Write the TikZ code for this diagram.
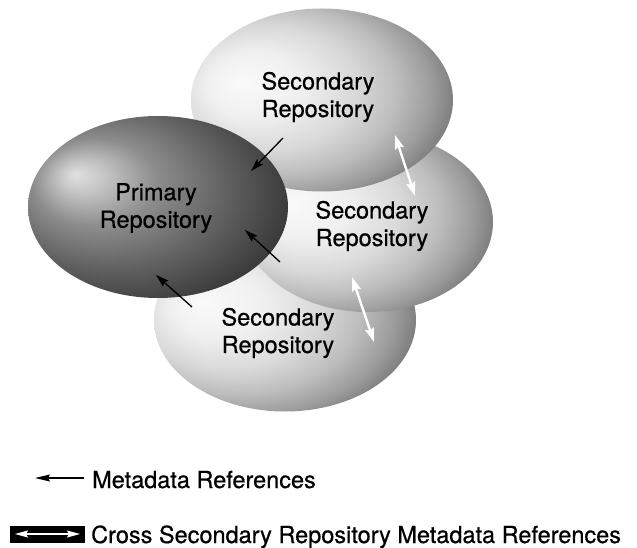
\documentclass[tikz,border=0pt]{standalone}
\usepackage{fontspec}
\setmainfont{TeX Gyre Heros}
\newfontfamily\heavysans[FakeBold=0.6]{TeX Gyre Heros}
\usetikzlibrary{shapes.geometric,arrows.meta}
\pgfdeclareradialshading{secshade}{\pgfpoint{-16bp}{5bp}}{%
  color(0bp)=(white!98!black); color(9bp)=(white!94!black);
  color(17bp)=(white!85!black); color(23bp)=(white!74!black);
  color(28bp)=(white!61!black); color(32bp)=(white!47!black);
  color(36bp)=(white!33!black); color(50bp)=(white!22!black)}
\pgfdeclareradialshading{primshade}{\pgfpoint{-16bp}{9bp}}{%
  color(0bp)=(white!88!black); color(4bp)=(white!78!black);
  color(12bp)=(white!55!black); color(22bp)=(white!38!black);
  color(32bp)=(white!22!black); color(42bp)=(white!11!black);
  color(50bp)=(white!8!black)}
\tikzset{
  repo/.style={ellipse, inner sep=0pt, draw=none, minimum width=262pt, minimum height=183pt},
  sec/.style={repo, shading=secshade},
  prim/.style={repo, shading=primshade},
  lbl/.style={align=center, inner sep=0pt, font=\heavysans\fontsize{23.5}{27.5}\selectfont},
  legtext/.style={anchor=base west, inner sep=0pt, font=\heavysans\fontsize{23.5}{27.5}\selectfont},
  metaref/.style={line width=1.3pt, -{Stealth[length=13pt,width=8pt,inset=2pt]}},
  crossref/.style={white, line width=2.4pt, {Stealth[length=14pt,width=9pt,inset=2pt]}-{Stealth[length=14pt,width=9pt,inset=2pt]}},
}
\begin{document}
\begin{tikzpicture}[x=1pt,y=-1pt]
\useasboundingbox (0,0) rectangle (637,548);
% ellipses
\node[sec, minimum width=262pt] (bot) at (285,320) {};
\node[sec, minimum width=250pt, minimum height=180pt] (mid) at (368,222) {};
\node[sec] (top) at (322,100) {};
\node[prim, minimum width=260pt, minimum height=182pt] (pri) at (158,207) {};
% labels
\node[lbl] (toptext) at (318,97) {Secondary\\Repository};
\node[lbl] (pritext) at (156,208) {Primary\\Repository};
\node[lbl] (midtext) at (372,226) {Secondary\\Repository};
\node[lbl] (bottext) at (278,333) {Secondary\\Repository};
% arrow end points
\coordinate (a1s) at (283,138); \coordinate (a1e) at (251,171);
\coordinate (a2s) at (280,262); \coordinate (a2e) at (245,230);
\coordinate (a3s) at (192,307); \coordinate (a3e) at (156,275);
\coordinate (w1s) at (395,135); \coordinate (w1e) at (415,196);
\coordinate (w2s) at (352,277); \coordinate (w2e) at (374,342);
\draw[metaref] (a1s) -- (a1e);
\draw[metaref] (a2s) -- (a2e);
\draw[metaref] (a3s) -- (a3e);
\draw[crossref] (w1s) -- (w1e);
\draw[crossref] (w2s) -- (w2e);
% legend
\coordinate (l1s) at (84,478); \coordinate (l1e) at (35,478);
\draw[line width=1.3pt, -{Stealth[length=15pt,width=7pt,inset=2pt]}] (l1s) -- (l1e);
\node[legtext] (leg1) at (92,488) {Metadata References};
\node[fill=black, inner sep=0pt, minimum width=75pt, minimum height=17pt] (legbox) at (47.5,534.5) {};
\coordinate (l2s) at (15,534); \coordinate (l2e) at (80,534);
\draw[white, line width=1.4pt, {Stealth[length=13pt,width=7pt,inset=2pt]}-{Stealth[length=13pt,width=7pt,inset=2pt]}] (l2s) -- (l2e);
\node[legtext] (leg2) at (91,543) {Cross Secondary Repository Metadata References};
\end{tikzpicture}
\end{document}
